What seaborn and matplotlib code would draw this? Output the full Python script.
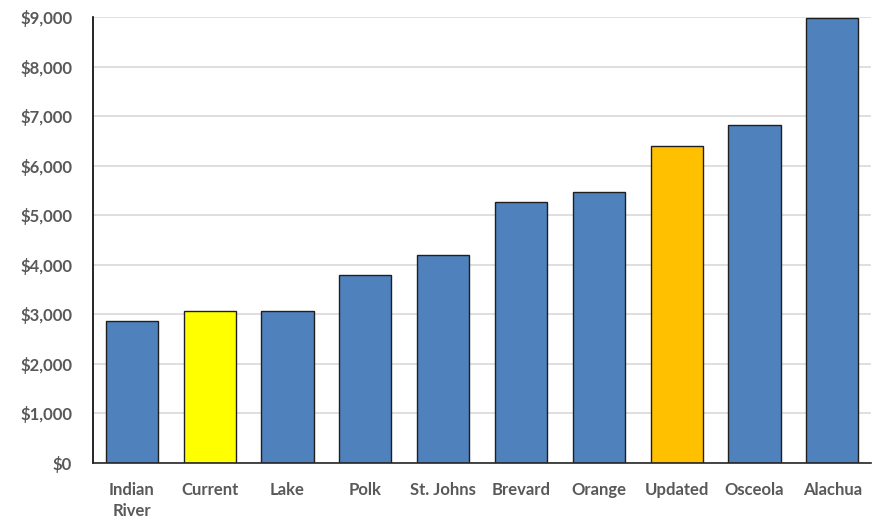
import matplotlib
matplotlib.use("Agg")
import matplotlib.pyplot as plt
import seaborn as sns
import pandas as pd
from matplotlib.ticker import FuncFormatter, MultipleLocator

categories = ["Indian\nRiver", "Current", "Lake", "Polk", "St. Johns", "Brevard",
              "Orange", "Updated", "Osceola", "Alachua"]
values = [2870, 3070, 3070, 3800, 4200, 5260, 5470, 6400, 6830, 8980]
colors = ["#4F81BD", "#FFFF00", "#4F81BD", "#4F81BD", "#4F81BD", "#4F81BD",
          "#4F81BD", "#FFC000", "#4F81BD", "#4F81BD"]

df = pd.DataFrame({"category": categories, "value": values})

sns.set_theme(style="white")
plt.rcParams['font.family'] = ['Lato', 'DejaVu Sans']

fig = plt.figure(figsize=(8.8, 5.22), dpi=100)
ax = fig.add_axes([0.1057, 0.1136, 0.8843, 0.8534])

sns.barplot(data=df, x="category", y="value", hue="category",
            palette=dict(zip(categories, colors)), legend=False,
            width=0.67, edgecolor="#1f1f1f", linewidth=1.0, saturation=1, ax=ax)

ax.set_ylim(0, 9000)
ax.set_xlim(-0.5, len(categories) - 0.5)
ax.yaxis.set_major_locator(MultipleLocator(1000))
ax.yaxis.set_major_formatter(FuncFormatter(lambda v, p: f"${int(v):,}"))
ax.grid(axis="y", color="#d9d9d9", linewidth=1.2)
ax.set_axisbelow(True)
ax.set_xlabel("")
ax.set_ylabel("")
for s in ["top", "right"]:
    ax.spines[s].set_visible(False)
ax.spines["left"].set_color("#000000")
ax.spines["left"].set_linewidth(1.2)
ax.spines["bottom"].set_color("#262626")
ax.spines["bottom"].set_linewidth(1.2)
ax.tick_params(axis="both", length=0, colors="#595959", labelsize=12)
ax.tick_params(axis="y", pad=15)
ax.tick_params(axis="x", pad=14)
for lbl in ax.get_xticklabels() + ax.get_yticklabels():
    lbl.set_fontweight("bold")
    lbl.set_color("#595959")
for lbl in ax.get_xticklabels():
    lbl.set_linespacing(1.4)
    lbl.set_verticalalignment("top")

fig.savefig("out.png", dpi=100)
